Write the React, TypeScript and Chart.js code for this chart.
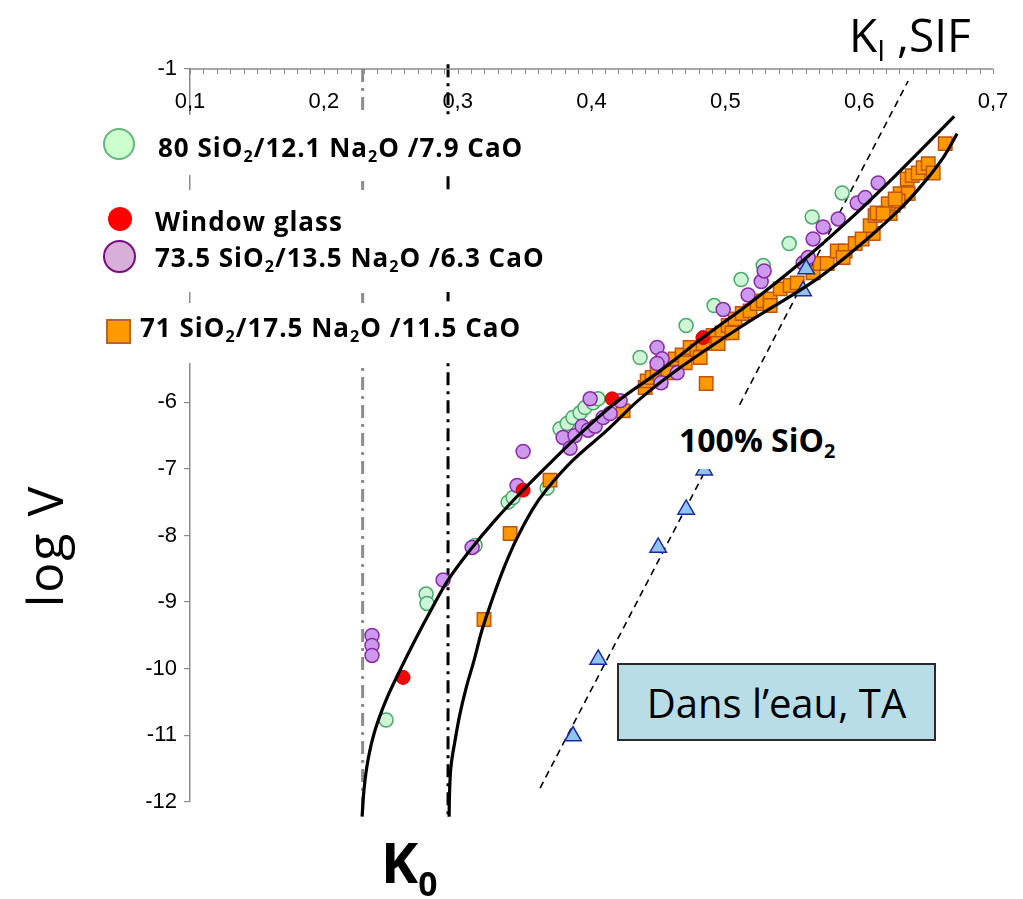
import React, { useEffect, useRef } from "react";
import { Chart, registerables } from "chart.js";
Chart.register(...registerables);

// ---------- data ----------
const xTickValues = [0.1, 0.2, 0.3, 0.4, 0.5, 0.6, 0.7];
const xTickLabels = ["0,1", "0,2", "0,3", "0,4", "0,5", "0,6", "0,7"];
const xMinorStep = 0.01;

const green80X = [0.2465, 0.2764, 0.2771, 0.313, 0.3377, 0.3414, 0.3668, 0.3765, 0.3818, 0.3862, 0.3915, 0.3952, 0.4012, 0.4049, 0.4363, 0.4707, 0.4916, 0.5118, 0.5283, 0.5477, 0.5649, 0.5873];
const green80Y = [-10.77, -8.88, -9.02, -8.15, -7.5, -7.43, -7.29, -6.4, -6.32, -6.23, -6.16, -6.08, -6.01, -5.95, -5.33, -4.85, -4.55, -4.16, -3.95, -3.62, -3.22, -2.86];

const windowX = [0.2592, 0.3489, 0.4154, 0.4834];
const windowY = [-10.13, -7.32, -5.95, -5.03];

const purple735X = [0.236, 0.236, 0.236, 0.2891, 0.3108, 0.3444, 0.3489, 0.3788, 0.384, 0.3877, 0.393, 0.3975, 0.4027, 0.399, 0.4087, 0.4139, 0.4214, 0.449, 0.4528, 0.449, 0.464, 0.452, 0.4984, 0.517, 0.5268, 0.529, 0.5581, 0.5619, 0.5656, 0.5731, 0.5843, 0.5985, 0.6045, 0.6142];
const purple735Y = [-9.5, -9.65, -9.8, -8.67, -8.18, -7.25, -6.74, -6.53, -6.69, -6.5, -6.36, -6.42, -6.36, -5.95, -6.23, -6.17, -5.98, -5.18, -5.35, -5.42, -5.56, -5.71, -4.61, -4.39, -4.19, -4.03, -3.91, -3.83, -3.55, -3.37, -3.25, -3.01, -2.93, -2.71];

const orange71X = [0.3197, 0.3392, 0.369, 0.4236, 0.4857, 0.4401, 0.4416, 0.4453, 0.449, 0.455, 0.4587, 0.4625, 0.4677, 0.4737, 0.4789, 0.4834, 0.4909, 0.4976, 0.5021, 0.5073, 0.5126, 0.5185, 0.5238, 0.5283, 0.5335, 0.5335, 0.541, 0.5484, 0.5537, 0.5656, 0.5709, 0.5761, 0.5836, 0.5895, 0.588, 0.597, 0.6022, 0.6105, 0.6082, 0.6119, 0.6157, 0.6232, 0.6254, 0.6217, 0.6306, 0.6366, 0.6291, 0.6359, 0.6396, 0.6441, 0.6478, 0.6516, 0.6553, 0.6643, 0.6134, 0.6179, 0.6269, 0.4513, 0.4573, 0.47, 0.4812, 0.4946, 0.505];
const orange71Y = [-9.26, -7.97, -7.17, -6.13, -5.72, -5.78, -5.68, -5.63, -5.56, -5.48, -5.41, -5.35, -5.29, -5.18, -5.23, -5.12, -5.0, -4.96, -4.85, -4.75, -4.67, -4.63, -4.52, -4.48, -4.45, -4.55, -4.3, -4.25, -4.21, -4.06, -3.92, -3.92, -3.73, -3.73, -3.83, -3.62, -3.55, -3.47, -3.35, -3.2, -3.17, -3.17, -3.05, -3.02, -2.87, -2.87, -2.98, -2.65, -2.6, -2.56, -2.48, -2.42, -2.56, -2.12, -3.16, -3.17, -2.95, -5.68, -5.56, -5.41, -5.33, -5.12, -4.96];

const silicaX = [0.3862, 0.405, 0.4498, 0.4707, 0.4842, 0.5604, 0.5581];
const silicaY = [-11.01, -9.86, -8.18, -7.61, -7.02, -4.0, -4.33];

const fitUpperX = [0.2286, 0.23, 0.233, 0.2383, 0.2465, 0.257, 0.2682, 0.2801, 0.2928, 0.3093, 0.328, 0.3489, 0.3713, 0.3945, 0.4199, 0.4513, 0.4834, 0.5185, 0.5559, 0.5933, 0.6306, 0.671];
const fitUpperY = [-12.22, -11.82, -11.37, -10.92, -10.47, -10.02, -9.57, -9.12, -8.67, -8.22, -7.77, -7.32, -6.87, -6.42, -5.98, -5.53, -5.03, -4.51, -3.91, -3.25, -2.53, -1.71];

const fitLowerX = [0.2936, 0.294, 0.2951, 0.2981, 0.3018, 0.3063, 0.3123, 0.3182, 0.3257, 0.3339, 0.3436, 0.3556, 0.366, 0.3862, 0.4117, 0.4363, 0.4685, 0.5185, 0.5686, 0.606, 0.6306, 0.6478, 0.6628, 0.6732];
const fitLowerY = [-12.22, -11.82, -11.45, -11.07, -10.67, -10.29, -9.87, -9.42, -8.97, -8.52, -8.07, -7.62, -7.32, -6.87, -6.42, -5.95, -5.45, -4.78, -4.15, -3.55, -3.1, -2.72, -2.33, -1.97];

const silicaTrendX = [0.3616, 0.6366];
const silicaTrendY = [-11.79, -1.18];

const k0GreyX = [0.229, 0.229];
const k0GreyY = [-1, -12.2];
const k0BlackX = [0.2928, 0.2928];
const k0BlackY = [-0.93, -12.2];

// ---------- helpers ----------
const pts = (xs: number[], ys: number[]) => xs.map((x, i) => ({ x, y: ys[i] }));

const topAxisPlugin = {
  id: "topAxis",
  afterDraw(chart: any) {
    const { ctx, chartArea } = chart;
    const xs = chart.scales.x;
    const top = chartArea.top;
    ctx.save();
    ctx.strokeStyle = "#8a8a8a";
    ctx.lineWidth = 1.5;
    ctx.beginPath();
    ctx.moveTo(chartArea.left, top);
    ctx.lineTo(chartArea.right, top);
    ctx.stroke();
    ctx.lineWidth = 1;
    const n = Math.round((xs.max - xs.min) / xMinorStep);
    ctx.beginPath();
    for (let i = 0; i <= n; i++) {
      const px = Math.round(xs.getPixelForValue(xs.min + i * xMinorStep)) + 0.5;
      ctx.moveTo(px, top);
      ctx.lineTo(px, top + 5);
    }
    ctx.stroke();
    ctx.fillStyle = "#000";
    ctx.font = '22px "Liberation Sans", Arial, sans-serif';
    ctx.textAlign = "center";
    ctx.textBaseline = "middle";
    xTickValues.forEach((v, i) => {
      ctx.fillText(xTickLabels[i], xs.getPixelForValue(v), top + 33);
    });
    ctx.restore();
  },
};

const sub = (t: string) => (
  <span style={{ fontSize: "0.62em", position: "relative", top: "0.32em" }}>{t}</span>
);

export default function App() {
  const ref = useRef<HTMLCanvasElement>(null);
  useEffect(() => {
    document.body.style.margin = "0";
    const chart = new Chart(ref.current as HTMLCanvasElement, {
      type: "scatter",
      data: {
        datasets: [
          {
            type: "line",
            label: "fit upper",
            data: pts(fitUpperX, fitUpperY),
            borderColor: "#000",
            borderWidth: 3.2,
            pointRadius: 0,
            tension: 0.4,
            clip: false,
            order: 0,
          } as any,
          {
            type: "line",
            label: "fit lower",
            data: pts(fitLowerX, fitLowerY),
            borderColor: "#000",
            borderWidth: 3.2,
            pointRadius: 0,
            tension: 0.4,
            clip: false,
            order: 0,
          } as any,
          {
            label: "100% SiO2",
            data: pts(silicaX, silicaY),
            pointStyle: "triangle",
            pointRadius: 9.5,
            backgroundColor: "#8fc3f2",
            borderColor: "#1c2a9c",
            borderWidth: 1.5,
            order: 5,
          },
          {
            label: "Window glass",
            data: pts(windowX, windowY),
            pointRadius: 7,
            backgroundColor: "#ee0a0a",
            borderColor: "#d80000",
            borderWidth: 1,
            order: 6,
          },
          {
            label: "73.5",
            data: pts(purple735X, purple735Y),
            pointRadius: 7,
            backgroundColor: "#cc99ee",
            borderColor: "#8a2aa6",
            borderWidth: 1.5,
            order: 7,
          },
          {
            label: "71",
            data: pts(orange71X, orange71Y),
            pointStyle: "rect",
            pointRadius: 9.5,
            backgroundColor: "#ff9900",
            borderColor: "#c0540c",
            borderWidth: 1.5,
            order: 8,
          },
          {
            label: "80",
            data: pts(green80X, green80Y),
            pointRadius: 7,
            backgroundColor: "#cdf5d6",
            borderColor: "#4aa86a",
            borderWidth: 1.5,
            order: 9,
          },
          {
            type: "line",
            label: "trend",
            data: pts(silicaTrendX, silicaTrendY),
            borderColor: "#000",
            borderWidth: 1.6,
            borderDash: [7, 5],
            pointRadius: 0,
            clip: false,
            order: 10,
          } as any,
          {
            type: "line",
            label: "K0 grey",
            data: pts(k0GreyX, k0GreyY),
            borderColor: "#8c8c8c",
            borderWidth: 3,
            borderDash: [13, 6, 3, 6],
            pointRadius: 0,
            clip: false,
            order: 11,
          } as any,
          {
            type: "line",
            label: "K0 black",
            data: pts(k0BlackX, k0BlackY),
            borderColor: "#000",
            borderWidth: 3,
            borderDash: [13, 6, 3, 6],
            pointRadius: 0,
            clip: false,
            order: 11,
          } as any,
        ],
      },
      options: {
        responsive: false,
        animation: false,
        events: [],
        layout: { padding: { left: 0, top: 0, right: 30, bottom: 97 } },
        plugins: { legend: { display: false }, tooltip: { enabled: false } },
        scales: {
          x: {
            type: "linear",
            position: "top",
            min: 0.1,
            max: 0.7,
            ticks: { display: false },
            grid: { display: false },
            border: { display: false },
            afterFit: (s: any) => {
              s.height = 69;
            },
          },
          y: {
            type: "linear",
            min: -12,
            max: -1,
            ticks: {
              stepSize: 1,
              color: "#000",
              font: { family: '"Liberation Sans", Arial, sans-serif', size: 22 },
              padding: 7,
            },
            grid: { drawOnChartArea: false, drawTicks: true, tickLength: 6, color: "#8a8a8a", lineWidth: 1.2 },
            border: { display: true, color: "#8a8a8a", width: 1.5 },
            afterFit: (s: any) => {
              s.width = 190;
            },
          },
        },
      },
      plugins: [topAxisPlugin],
    } as any);
    return () => chart.destroy();
  }, []);

  const legendText: React.CSSProperties = {
    position: "absolute",
    fontFamily: '"Open Sans", sans-serif',
    fontWeight: 700,
    fontSize: 26,
    letterSpacing: 1,
    height: 40,
    lineHeight: "40px",
    whiteSpace: "nowrap",
    color: "#000",
  };

  return (
    <div
      style={{
        position: "absolute",
        left: 0,
        top: 0,
        width: 1023,
        height: 899,
        background: "#fff",
        overflow: "hidden",
        fontFamily: '"Open Sans", sans-serif',
      }}
    >
      <canvas ref={ref} width={1023} height={899} style={{ position: "absolute", left: 0, top: 0, width: 1023, height: 899 }} />

      {/* axis titles */}
      <div style={{ position: "absolute", left: 849, top: 11, fontSize: 46, lineHeight: "46px", whiteSpace: "nowrap", color: "#000" }}>
        K{sub("I")} ,SIF
      </div>
      <div
        style={{
          position: "absolute",
          left: 44 - 90,
          top: 546 - 28,
          width: 180,
          height: 56,
          lineHeight: "56px",
          textAlign: "center",
          fontSize: 50,
          letterSpacing: 2,
          transform: "rotate(-90deg)",
          whiteSpace: "nowrap",
          color: "#000",
        }}
      >
        log V
      </div>
      <div style={{ position: "absolute", left: 381, top: 833, fontSize: 56, fontWeight: 700, lineHeight: "56px", whiteSpace: "nowrap", color: "#000" }}>
        K<span style={{ fontSize: "0.6em", position: "relative", top: "0.4em" }}>0</span>
      </div>

      {/* legend boxes */}
      <div style={{ position: "absolute", left: 88, top: 115, width: 450, height: 60, background: "#fff" }} />
      <div style={{ position: "absolute", left: 88, top: 190, width: 465, height: 102, background: "#fff" }} />
      <div style={{ position: "absolute", left: 88, top: 303, width: 450, height: 60, background: "#fff" }} />

      <span style={{ position: "absolute", left: 103, top: 128, width: 32, height: 32, borderRadius: "50%", background: "#ccffcc", border: "2px solid #62b57c", boxSizing: "border-box" }} />
      <div style={{ ...legendText, left: 158, top: 147 - 20 }}>80 SiO{sub("2")}/12.1 Na{sub("2")}O /7.9 CaO</div>

      <span style={{ position: "absolute", left: 108, top: 207, width: 24, height: 24, borderRadius: "50%", background: "#ff0000" }} />
      <div style={{ ...legendText, left: 155, top: 221 - 20 }}>Window glass</div>

      <span style={{ position: "absolute", left: 103, top: 240, width: 33, height: 33, borderRadius: "50%", background: "#d6b0d8", border: "2px solid #7d0a80", boxSizing: "border-box" }} />
      <div style={{ ...legendText, left: 155, top: 257 - 20 }}>73.5 SiO{sub("2")}/13.5 Na{sub("2")}O /6.3 CaO</div>

      <span style={{ position: "absolute", left: 106, top: 319, width: 25, height: 25, background: "#ff9900", border: "2px solid #b5652a", boxSizing: "border-box" }} />
      <div style={{ ...legendText, left: 140, top: 327 - 20 }}>71 SiO{sub("2")}/17.5 Na{sub("2")}O /11.5 CaO</div>

      {/* 100% SiO2 label */}
      <div style={{ position: "absolute", left: 672, top: 408, width: 170, height: 61, background: "#fff" }} />
      <div style={{ position: "absolute", left: 679, top: 440 - 20, height: 40, lineHeight: "40px", fontSize: 32, fontWeight: 700, whiteSpace: "nowrap", color: "#000" }}>
        100% SiO{sub("2")}
      </div>

      {/* Dans l'eau box */}
      <div
        style={{
          position: "absolute",
          left: 617,
          top: 663,
          width: 319,
          height: 78,
          background: "#b8dde7",
          border: "2px solid #2a2a2a",
          boxSizing: "border-box",
          display: "flex",
          alignItems: "center",
          justifyContent: "center",
          fontSize: 40,
          color: "#000",
          whiteSpace: "nowrap",
        }}
      >
        Dans l’eau, TA
      </div>
    </div>
  );
}
